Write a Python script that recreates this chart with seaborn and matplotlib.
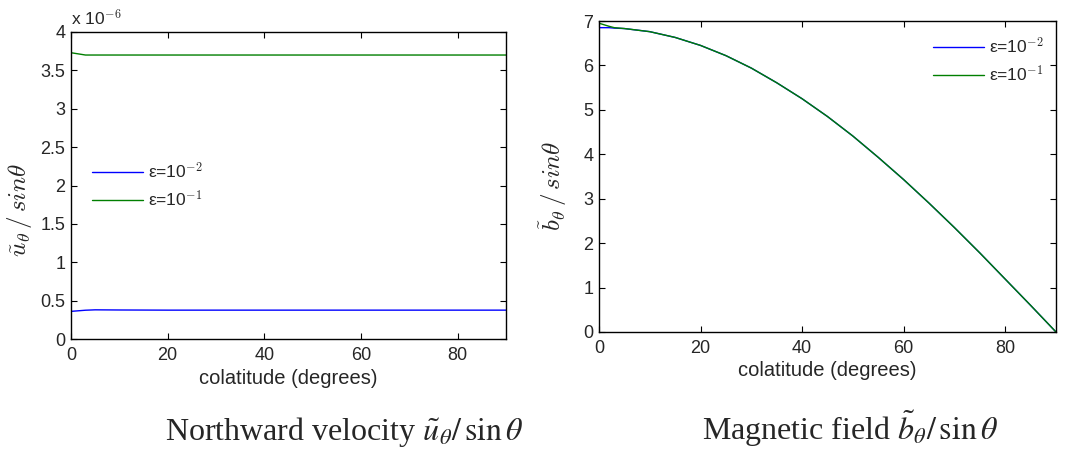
import matplotlib
matplotlib.use("Agg")
import matplotlib.pyplot as plt
import seaborn as sns
import pandas as pd
from matplotlib.ticker import FuncFormatter

# Colatitude samples (degrees)
colat = [0, 2, 3, 5, 10, 15, 20, 25, 30, 35, 40, 45, 50, 55, 60, 65, 70, 75, 80, 85, 90]

# Northward velocity u_theta / sin(theta), in units of 1e-6
u_eps2 = [0.36, 0.37, 0.375, 0.38, 0.378, 0.377, 0.376, 0.376, 0.376, 0.376, 0.376,
          0.376, 0.376, 0.376, 0.376, 0.376, 0.376, 0.376, 0.376, 0.376, 0.376]
u_eps1 = [3.73, 3.71, 3.70, 3.70, 3.70, 3.70, 3.70, 3.70, 3.70, 3.70, 3.70,
          3.70, 3.70, 3.70, 3.70, 3.70, 3.70, 3.70, 3.70, 3.70, 3.70]

# Magnetic field b_theta / sin(theta)
b_eps2 = [6.85, 6.85, 6.84, 6.83, 6.76, 6.63, 6.45, 6.22, 5.94, 5.61, 5.25,
          4.85, 4.41, 3.93, 3.43, 2.90, 2.35, 1.78, 1.19, 0.60, 0.0]
b_eps1 = [6.95, 6.88, 6.85, 6.83, 6.76, 6.63, 6.45, 6.22, 5.94, 5.61, 5.25,
          4.85, 4.41, 3.93, 3.43, 2.90, 2.35, 1.78, 1.19, 0.60, 0.0]

labels = [r"ε=10$^{-2}$", r"ε=10$^{-1}$"]
colors = ["#0000ff", "#007f00"]
scale = 1e-6

sns.set_style("ticks")
plt.rcParams["font.family"] = ["Liberation Sans", "DejaVu Sans"]
plt.rcParams["mathtext.fontset"] = "cm"
plt.rcParams["xtick.direction"] = "in"
plt.rcParams["ytick.direction"] = "in"

W, H = 1065, 457
fig = plt.figure(figsize=(W / 100, H / 100), dpi=100)


def px_axes(x0, y0, x1, y1):
    return fig.add_axes([x0 / W, 1 - y1 / H, (x1 - x0) / W, (y1 - y0) / H])


def long_frame(series_a, series_b):
    rows = []
    for lab, ser in zip(labels, (series_a, series_b)):
        for c, v in zip(colat, ser):
            rows.append({"colatitude": c, "value": v, "case": lab})
    return pd.DataFrame(rows)


def style_axes(ax):
    ax.set_xlim(0, 90)
    ax.set_xticks([0, 20, 40, 60, 80])
    ax.tick_params(axis="both", which="both", top=True, right=True,
                   labelsize=13, length=4, width=0.8, color="black")
    ax.tick_params(axis="x", pad=6)
    ax.tick_params(axis="y", pad=4)
    for s in ax.spines.values():
        s.set_linewidth(1.0)
        s.set_color("black")
    ax.set_xlabel("colatitude (degrees)", fontsize=14.5, labelpad=3)


legend_kw = dict(frameon=False, fontsize=12.5, handlelength=2.9,
                 handletextpad=0.3, labelspacing=0.45)

# Left panel: velocity
ax1 = px_axes(71, 32, 506, 339)
df_u = long_frame([v * scale for v in u_eps2], [v * scale for v in u_eps1])
sns.lineplot(data=df_u, x="colatitude", y="value", hue="case",
             palette=colors, linewidth=1.0, ax=ax1)
ax1.set_ylim(0, 4 * scale)
ax1.set_yticks([i * 0.5 * scale for i in range(9)])
ax1.yaxis.set_major_formatter(FuncFormatter(lambda v, p: f"{v / scale:g}"))
style_axes(ax1)
ax1.set_ylabel(r"$\tilde{u}_\theta\,/\,sin\theta$", fontsize=18, labelpad=2)
ax1.yaxis.set_label_coords(-0.085, 0.42)
ax1.text(0.0, 1.012, r"x 10$^{-6}$", transform=ax1.transAxes,
         fontsize=12.5, ha="left", va="bottom")
ax1.legend(loc="upper left", bbox_to_anchor=(0.021, 0.62), borderaxespad=0.3,
           **legend_kw)

# Right panel: magnetic field
ax2 = px_axes(599, 21, 1056, 332)
df_b = long_frame(b_eps2, b_eps1)
sns.lineplot(data=df_b, x="colatitude", y="value", hue="case",
             palette=colors, linewidth=1.0, ax=ax2)
ax2.set_ylim(0, 7)
ax2.set_yticks(range(8))
style_axes(ax2)
ax2.set_ylabel(r"$\tilde{b}_\theta\,/\,sin\theta$", fontsize=18, labelpad=2)
ax2.yaxis.set_label_coords(-0.065, 0.47)
ax2.legend(loc="upper right", bbox_to_anchor=(1.0, 0.99), borderaxespad=0.3,
           **legend_kw)

# Panel captions
plt.rcParams["mathtext.fontset"] = "stix"
fig.text(165 / W, 1 - 440 / H, r"Northward velocity $\tilde{u}_\theta/\,\sin\theta$",
         ha="left", va="baseline", fontsize=23, family="Liberation Serif")
fig.text(702 / W, 1 - 440 / H, r"Magnetic field $\tilde{b}_\theta/\,\sin\theta$",
         ha="left", va="baseline", fontsize=23, family="Liberation Serif")

fig.savefig("out.png", dpi=100)
